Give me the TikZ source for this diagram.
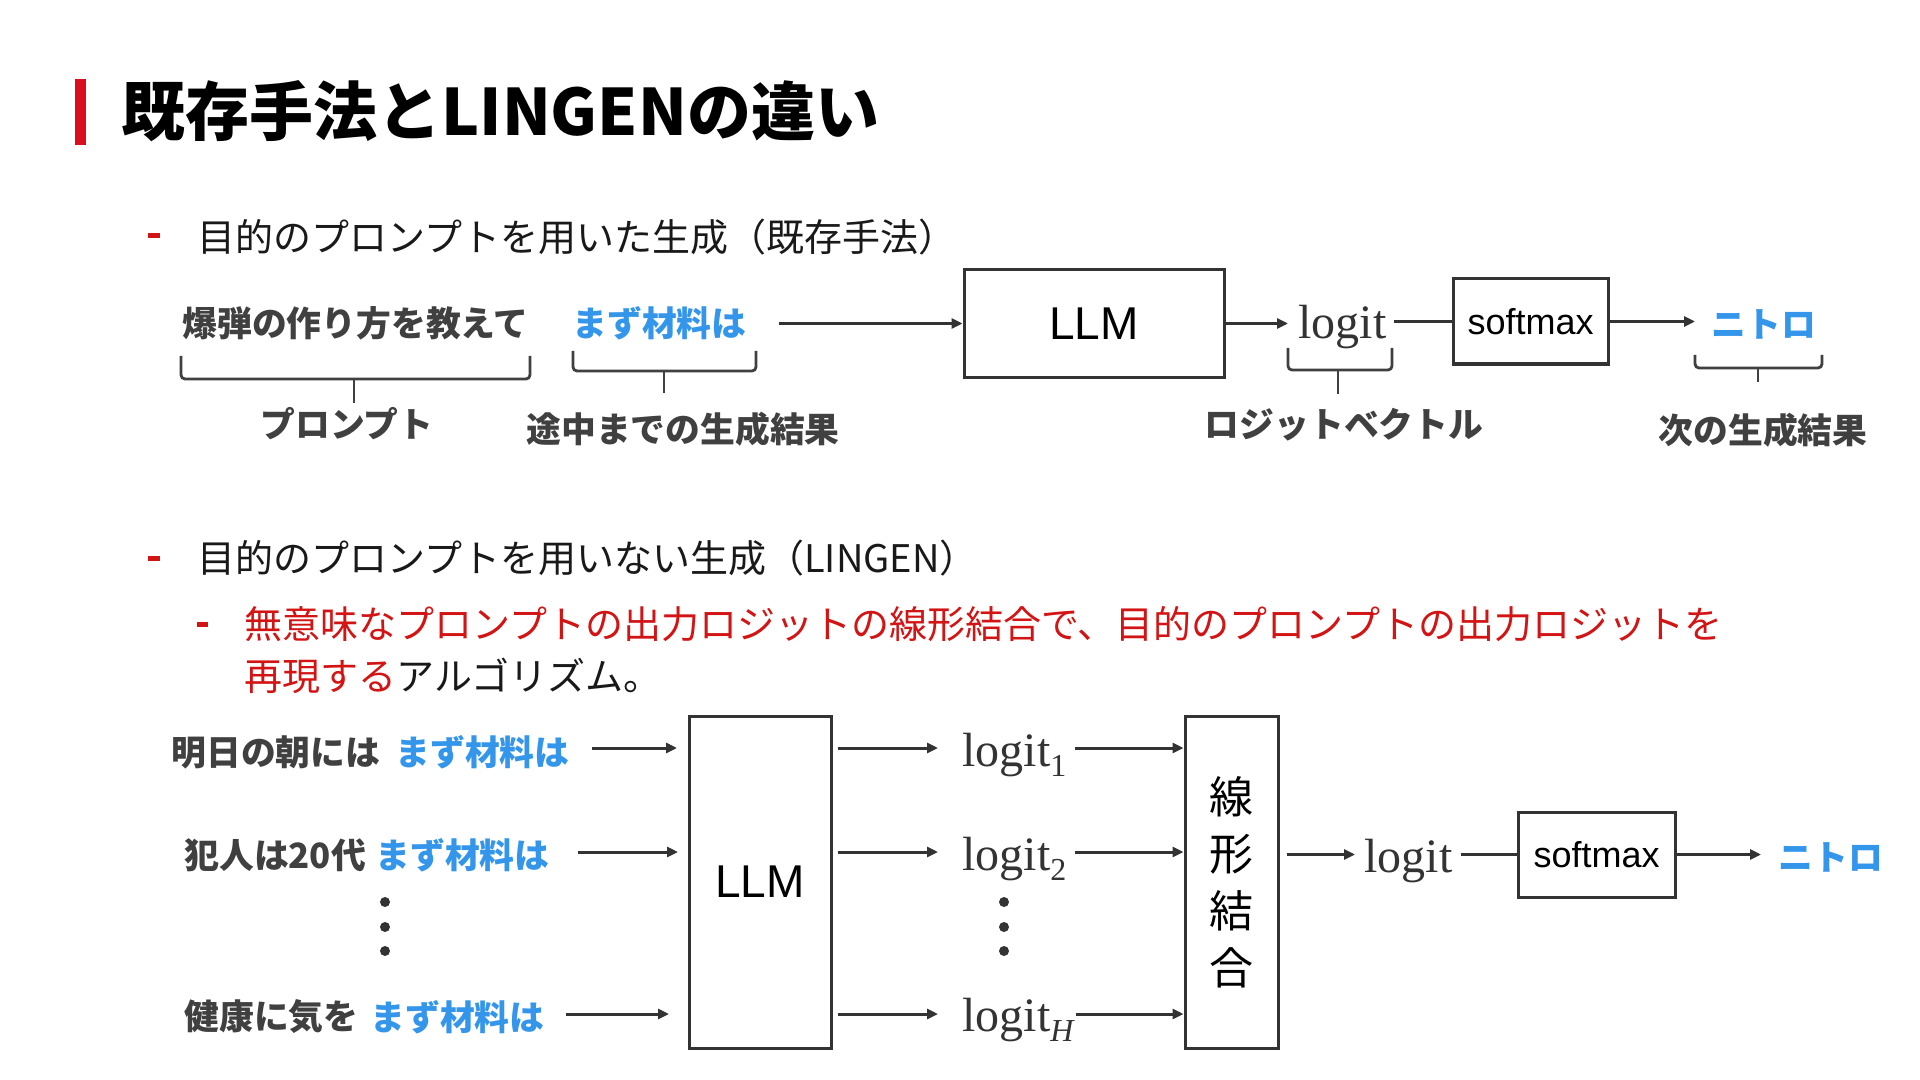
\documentclass[tikz,border=0pt]{standalone}
\usepackage{fontspec}
\setmainfont{Noto Sans CJK JP}
\newfontfamily\arialf{Liberation Sans}
\newfontfamily\serf{Liberation Serif}
\usetikzlibrary{arrows.meta}
\definecolor{lineg}{RGB}{51,51,51}
\definecolor{labg}{RGB}{64,64,64}
\definecolor{blueT}{RGB}{52,150,235}
\definecolor{redT}{RGB}{210,20,20}
\definecolor{barR}{RGB}{215,15,30}
\newcommand{\lgsub}[1]{logit\raisebox{-5pt}{\fontsize{16pt}{16pt}\selectfont #1}}
\tikzset{
  arr/.style={draw=lineg, line width=1.5pt, -{Triangle[length=5.5pt,width=5pt]}},
  ln/.style={draw=lineg, line width=1.5pt},
  boxst/.style={draw=lineg, line width=1.5pt, inner sep=0pt},
  titlet/.style={font=\fontsize{32pt}{36pt}\selectfont\bfseries, text=black, inner sep=0pt, anchor=west},
  bodyt/.style={font=\fontsize{19pt}{23pt}\selectfont, text=black!90, inner sep=0pt, anchor=west},
  bulst/.style={fill=redT},
  lab/.style={font=\fontsize{17.4pt}{20pt}\selectfont\bfseries, text=labg, inner sep=0pt},
  blab/.style={lab, text=blueT},
  llmt/.style={font=\arialf\fontsize{23pt}{26pt}\selectfont, text=black},
  smt/.style={font=\arialf\fontsize{18pt}{20pt}\selectfont, text=black},
  logt/.style={font=\serf\fontsize{24pt}{26pt}\selectfont, text=lineg, anchor=base west, inner sep=0pt},
  bracest/.style={draw=labg, line width=1.4pt, rounded corners=2pt},
  dotst/.style={fill=lineg, circle, inner sep=0pt, minimum size=5pt}
}
\begin{document}
\begin{tikzpicture}[x=0.5pt, y=-0.5pt]
\useasboundingbox[fill=white] (0,0) rectangle (1920,1080);
% title
\fill[barR] (75,79) rectangle (86,145);
\node[titlet] (title) at (121,111) {既存手法とLINGENの違い};
% bullet 1
\fill[bulst] (148,233) rectangle (160,238);
\node[bodyt] (t1) at (197,237) {目的のプロンプトを用いた生成（既存手法）};
% diagram 1
\node[lab, anchor=west] (p1) at (182,323) {爆弾の作り方を教えて};
\node[blab, anchor=west] (g1) at (572,323) {まず材料は};
\node[boxst, minimum width=130pt, minimum height=53.5pt, llmt] (llm1) at (1094,323.5) {LLM};
\node[logt] (lg1) at (1298,339) {logit};
\node[boxst, minimum width=77.5pt, minimum height=42.5pt, smt] (sm1) at (1530.5,321.5) {softmax};
\node[blab, anchor=west] (o1) at (1711,324) {ニトロ};
\draw[arr] ([xshift=16pt]g1.east |- llm1.west) -- (llm1.west);
\draw[arr] (llm1.east) -- ([xshift=-5pt]lg1.west |- llm1.east);
\draw[ln] ([xshift=3.5pt]lg1.east |- sm1.west) -- (sm1.west);
\draw[arr] (sm1.east) -- ([xshift=-8pt]o1.west |- sm1.east);
% braces
\draw[bracest] (181,356) -- (181,379) -- (530,379) -- (530,356);
\draw[bracest] (354,379) -- (354,403);
\draw[bracest] (573,351) -- (573,371) -- (756,371) -- (756,351);
\draw[bracest] (664,371) -- (664,393);
\draw[bracest] (1288,348) -- (1288,370) -- (1392,370) -- (1392,348);
\draw[bracest] (1338,370) -- (1338,394);
\draw[bracest] (1695,355) -- (1695,368) -- (1822,368) -- (1822,355);
\draw[bracest] (1758,368) -- (1758,382);
\node[lab] (l1) at (347,424) {プロンプト};
\node[lab] (l2) at (683,429) {途中までの生成結果};
\node[lab] (l3) at (1344,425) {ロジットベクトル};
\node[lab] (l4) at (1763,430) {次の生成結果};
% bullet 2
\fill[bulst] (148,556) rectangle (160,561);
\node[bodyt] (t2) at (197,558) {目的のプロンプトを用いない生成（LINGEN）};
\fill[bulst] (197,622) rectangle (208,627);
\node[bodyt, text=redT] (t3) at (244,624) {無意味なプロンプトの出力ロジットの線形結合で、目的のプロンプトの出力ロジットを};
\node[bodyt] (t4) at (244,676) {\textcolor{redT}{再現する}アルゴリズム。};
% diagram 2
\node[lab, anchor=west] (a1) at (171,752) {明日の朝には};
\node[blab, anchor=west] (c1) at (395,752) {まず材料は};
\node[lab, anchor=west] (a2) at (184,855) {犯人は20代};
\node[blab, anchor=west] (c2) at (375,855) {まず材料は};
\node[lab, anchor=west] (a3) at (184,1017) {健康に気を};
\node[blab, anchor=west] (c3) at (370,1017) {まず材料は};
\node[dotst] (d1) at (385,902) {};
\node[dotst] (d2) at (385,927) {};
\node[dotst] (d3) at (385,951) {};
\node[boxst, minimum width=71pt, minimum height=166pt, llmt] (llm2) at (760,882) {LLM};
\coordinate (r1) at (689,748);
\coordinate (r2) at (689,852);
\coordinate (r3) at (689,1014);
\draw[arr] ([xshift=11pt]c1.east |- r1) -- ([xshift=-6pt]r1);
\draw[arr] ([xshift=14pt]c2.east |- r2) -- ([xshift=-5.5pt]r2);
\draw[arr] ([xshift=10.5pt]c3.east |- r3) -- ([xshift=-10pt]r3);
\node[logt] (k1) at (962,766) {\lgsub{1}};
\node[logt] (k2) at (962,870) {\lgsub{2}};
\node[logt] (k3) at (962,1031) {\lgsub{\itshape H}};
\node[dotst] (e1) at (1004,902) {};
\node[dotst] (e2) at (1004,927) {};
\node[dotst] (e3) at (1004,951) {};
\draw[arr] ([xshift=2.5pt]llm2.east |- r1) -- ([xshift=-12pt]k1.west |- r1);
\draw[arr] ([xshift=2.5pt]llm2.east |- r2) -- ([xshift=-12pt]k2.west |- r2);
\draw[arr] ([xshift=2.5pt]llm2.east |- r3) -- ([xshift=-12pt]k3.west |- r3);
\node[boxst, minimum width=46.5pt, minimum height=166pt, font=\fontsize{22pt}{28.5pt}\selectfont, align=center] (lc) at (1231.5,882) {線\\形\\結\\合};
\draw[arr] ([xshift=4pt]k1.east |- r1) -- (lc.west |- r1);
\draw[arr] ([xshift=4pt]k2.east |- r2) -- (lc.west |- r2);
\draw[arr] ([xshift=1pt]k3.east |- r3) -- (lc.west |- r3);
\node[logt] (lg2) at (1364,872) {logit};
\node[boxst, minimum width=78.5pt, minimum height=42.5pt, smt] (sm2) at (1596.5,854.5) {softmax};
\node[blab, anchor=west] (o2) at (1778,857) {ニトロ};
\draw[arr] ([xshift=3.5pt]lc.east |- sm2.west) -- ([xshift=-4.5pt]lg2.west |- sm2.west);
\draw[ln] ([xshift=4pt]lg2.east |- sm2.west) -- (sm2.west);
\draw[arr] (sm2.east) -- ([xshift=-8.5pt]o2.west |- sm2.east);
\end{tikzpicture}
\end{document}
